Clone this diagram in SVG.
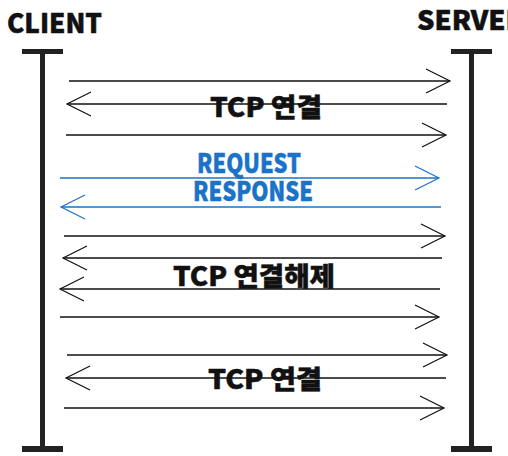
<svg xmlns="http://www.w3.org/2000/svg" width="508" height="456" viewBox="0 0 508 456">
<style>
.t{font-family:"Noto Sans CJK KR","Noto Sans",sans-serif;font-weight:900;font-size:26.5px;stroke-width:0.5;stroke-linejoin:round}
.k{fill:#111;stroke:#111}
.b{fill:#1a73c6;stroke:#1a73c6}
.msg{stroke:#111;stroke-width:1.3;fill:none;marker-end:url(#hk)}
.msgb{stroke:#1a73c6;stroke-width:1.3;fill:none;marker-end:url(#hb)}
.life{stroke:#222;stroke-width:5}
</style>
<defs>
<marker id="hk" markerUnits="userSpaceOnUse" markerWidth="26" markerHeight="26" refX="24" refY="12" orient="auto" viewBox="0 0 26 26" overflow="visible">
<path d="M0,0 L24,12 L0,24" fill="none" stroke="#111" stroke-width="1.2"/>
</marker>
<marker id="hb" markerUnits="userSpaceOnUse" markerWidth="26" markerHeight="26" refX="24" refY="12" orient="auto" viewBox="0 0 26 26" overflow="visible">
<path d="M0,0 L24,12 L0,24" fill="none" stroke="#1a73c6" stroke-width="1.2"/>
</marker>
</defs>
<rect width="508" height="456" fill="#fff"/>
<g id="client">
<text class="t k" x="7" y="33" textLength="95" lengthAdjust="spacingAndGlyphs">CLIENT</text>
<rect x="22" y="49" width="41" height="5" fill="#222"/>
<line class="life" x1="42.5" y1="50" x2="42.5" y2="450"/>
<rect x="22" y="446" width="41" height="6" fill="#222"/>
</g>
<g id="server">
<text class="t k" x="417" y="30" textLength="108" lengthAdjust="spacingAndGlyphs">SERVER</text>
<rect x="451" y="49" width="41" height="5" fill="#222"/>
<line class="life" x1="471.5" y1="50" x2="471.5" y2="450"/>
<rect x="451" y="446" width="41" height="6" fill="#222"/>
</g>
<g id="connectors">
<line class="msg" x1="69" y1="81" x2="450" y2="81"/>
<line class="msg" x1="447" y1="104" x2="67" y2="104"/>
<line class="msg" x1="66" y1="135" x2="446" y2="135"/>
<line class="msgb" x1="60" y1="178" x2="439" y2="178"/>
<line class="msgb" x1="441" y1="207" x2="61" y2="207"/>
<line class="msg" x1="64" y1="236" x2="445" y2="236"/>
<line class="msg" x1="442" y1="258" x2="63" y2="258"/>
<line class="msg" x1="440" y1="289" x2="60" y2="289"/>
<line class="msg" x1="60" y1="317" x2="439" y2="317"/>
<line class="msg" x1="67" y1="355" x2="447" y2="355"/>
<line class="msg" x1="446" y1="378" x2="66" y2="378"/>
<line class="msg" x1="64" y1="408" x2="444" y2="408"/>
</g>
<g id="labels">
<text class="t k" x="210" y="117" textLength="112" lengthAdjust="spacingAndGlyphs">TCP 연결</text>
<text class="t b" x="197" y="173" textLength="104" lengthAdjust="spacingAndGlyphs">REQUEST</text>
<text class="t b" x="193" y="201" textLength="120" lengthAdjust="spacingAndGlyphs">RESPONSE</text>
<text class="t k" x="173" y="286" textLength="162" lengthAdjust="spacingAndGlyphs">TCP 연결해제</text>
<text class="t k" x="208" y="389" textLength="114" lengthAdjust="spacingAndGlyphs">TCP 연결</text>
</g>
</svg>
